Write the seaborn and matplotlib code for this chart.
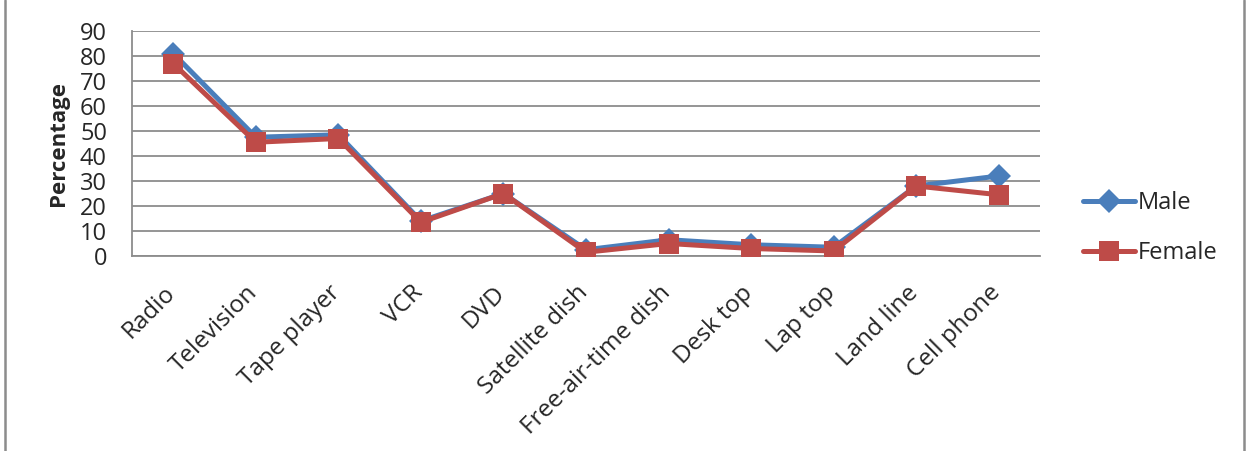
import matplotlib
matplotlib.use("Agg")
import matplotlib.pyplot as plt
from matplotlib.lines import Line2D
import matplotlib.transforms as mtransforms
import seaborn as sns
import pandas as pd
import numpy as np

categories = ["Radio", "Television", "Tape player", "VCR", "DVD", "Satellite dish",
              "Free-air-time dish", "Desk top", "Lap top", "Land line", "Cell phone"]
male = [81, 47.5, 48.5, 14, 25, 2.5, 6.5, 4.5, 3.5, 28, 32]
female = [77, 45.5, 47, 13.5, 25, 1.5, 5, 3, 2, 28, 24.5]
series_names = ["Male", "Female"]
y_ticks = [0, 10, 20, 30, 40, 50, 60, 70, 80, 90]

sns.set_style("white")
plt.rcParams["font.family"] = ["Open Sans", "DejaVu Sans"]

blue = "#4A7EBB"
red = "#BE4B48"
grid_c = "#8C8C8C"
lw = 3.6
ms_d = 12
ms_s = 14

idx = np.arange(len(categories))
df = pd.DataFrame({
    "pos": np.concatenate([idx, idx]),
    "value": male + female,
    "sex": [series_names[0]] * len(male) + [series_names[1]] * len(female),
})

fig = plt.figure(figsize=(12.5, 4.51), dpi=100)
ax = fig.add_axes([132 / 1250, 1 - 256 / 451, (1040 - 132) / 1250, (256 - 31) / 451])

sns.lineplot(data=df, x="pos", y="value", hue="sex", style="sex",
             palette={"Male": blue, "Female": red},
             markers={"Male": "D", "Female": "s"}, dashes=False,
             linewidth=lw, markersize=ms_s, markeredgewidth=0,
             legend=False, ax=ax, zorder=3)
for ln in ax.lines:
    if ln.get_marker() == "D":
        ln.set_markersize(ms_d)

ax.set_xlim(-0.5, len(categories) - 0.5)
ax.set_ylim(0, 90)
ax.set_yticks(y_ticks)
ax.set_yticklabels([str(t) for t in y_ticks], fontsize=17)
ax.yaxis.grid(True, color=grid_c, linewidth=1.3)
ax.set_axisbelow(True)

ax.set_xticks(np.arange(-0.5, len(categories), 1), minor=True)
ax.tick_params(axis="x", which="major", length=0, pad=18)
ax.tick_params(axis="x", which="minor", length=6, width=1.3, color=grid_c, direction="out")
ax.tick_params(axis="y", length=6, width=1.3, color=grid_c, direction="out", pad=12)

ax.set_xticks(idx)
ax.set_xticklabels(categories, rotation=45, ha="right", va="top",
                   rotation_mode="anchor", fontsize=17.5)
# nudge the rotated category labels left so they end under each point
shift = mtransforms.ScaledTranslation(-10 / 100, 0, fig.dpi_scale_trans)
for lab in ax.get_xticklabels():
    lab.set_transform(lab.get_transform() + shift)

for s in ["top", "right"]:
    ax.spines[s].set_visible(False)
for s in ["left", "bottom"]:
    ax.spines[s].set_color(grid_c)
    ax.spines[s].set_linewidth(1.3)

ax.set_xlabel("")
ax.set_ylabel("Percentage", fontsize=16, fontweight="bold", labelpad=8)

handles = [
    Line2D([], [], color=blue, marker="D", markersize=ms_d, linewidth=lw, markeredgewidth=0),
    Line2D([], [], color=red, marker="s", markersize=ms_s, linewidth=lw, markeredgewidth=0),
]
fig.legend(handles, series_names, loc="center left", bbox_to_anchor=(1062 / 1250, 1 - 228 / 451),
           frameon=False, fontsize=17, handlelength=2.2, handletextpad=0.1,
           labelspacing=1.1)

# outer chart frame edges
for xf in (5 / 1250, 1244 / 1250):
    fig.add_artist(Line2D([xf, xf], [0, 1], transform=fig.transFigure,
                          color="#8C8C8C", linewidth=1.8))

fig.savefig("out.png", dpi=100)
